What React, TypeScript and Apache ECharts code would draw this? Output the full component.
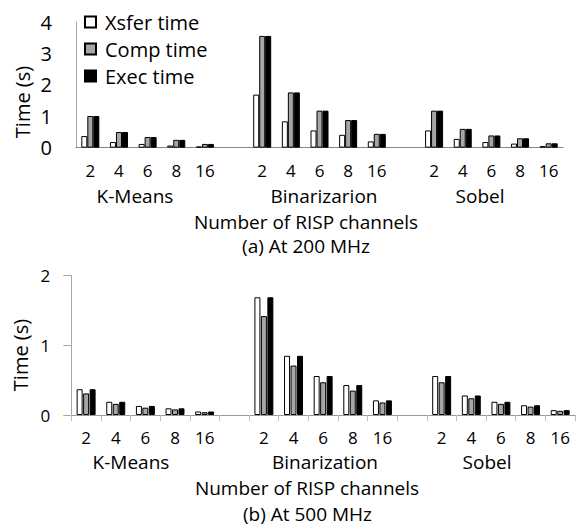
import React, { useEffect, useRef } from "react";
import * as echarts from "echarts";

const channels = ["2", "4", "6", "8", "16"];
const groupsTop = ["K-Means", "Binarizarion", "Sobel"];
const groupsBottom = ["K-Means", "Binarization", "Sobel"];
const seriesNames = ["Xsfer time", "Comp time", "Exec time"];

// (a) At 200 MHz  — one row per application, one value per channel count
const xsfer200 = [
  [0.37, 0.18, 0.12, 0.07, 0.04],
  [1.69, 0.84, 0.55, 0.41, 0.2],
  [0.55, 0.28, 0.18, 0.13, 0.05],
];
const comp200 = [
  [1.01, 0.5, 0.34, 0.25, 0.12],
  [3.56, 1.76, 1.18, 0.88, 0.44],
  [1.18, 0.6, 0.39, 0.3, 0.14],
];
const exec200 = [
  [1.01, 0.5, 0.34, 0.25, 0.12],
  [3.56, 1.76, 1.18, 0.88, 0.44],
  [1.18, 0.6, 0.39, 0.3, 0.14],
];

// (b) At 500 MHz
const xsfer500 = [
  [0.37, 0.19, 0.13, 0.096, 0.05],
  [1.69, 0.85, 0.56, 0.43, 0.21],
  [0.56, 0.28, 0.19, 0.14, 0.07],
];
const comp500 = [
  [0.31, 0.16, 0.105, 0.08, 0.04],
  [1.42, 0.71, 0.47, 0.35, 0.18],
  [0.47, 0.24, 0.16, 0.12, 0.06],
];
const exec500 = [
  [0.37, 0.19, 0.13, 0.096, 0.05],
  [1.69, 0.85, 0.56, 0.43, 0.21],
  [0.56, 0.28, 0.19, 0.14, 0.07],
];

const yTicksTop = [0, 4, 1];
const yTicksBottom = [0, 2, 1];

const FONT = "'Open Sans', sans-serif";

function flatten(rows: number[][]): (number | null)[] {
  const out: (number | null)[] = [];
  rows.forEach((r, i) => {
    if (i > 0) out.push(null);
    r.forEach((v) => out.push(v));
  });
  return out;
}

const categoryIds: string[] = [];
const tickLabels: string[] = [];
groupsTop.forEach((_, gi) => {
  if (gi > 0) {
    categoryIds.push("gap" + gi);
    tickLabels.push("");
  }
  channels.forEach((c, ci) => {
    categoryIds.push("g" + gi + "c" + ci);
    tickLabels.push(c);
  });
});

export default function App() {
  const ref = useRef<HTMLDivElement>(null);
  useEffect(() => {
    if (!ref.current) return;
    const chart = echarts.init(ref.current, undefined, { renderer: "svg" });

    const styles = [
      { color: "#ffffff", borderColor: "#000000", borderWidth: 1 },
      { color: "#a6a6a6", borderColor: "#000000", borderWidth: 1 },
      { color: "#000000", borderColor: "#000000", borderWidth: 1 },
    ];
    const topData = [xsfer200, comp200, exec200];
    const botData = [xsfer500, comp500, exec500];

    const series: any[] = [];
    seriesNames.forEach((n, i) => {
      series.push({
        name: n,
        type: "bar",
        xAxisIndex: 0,
        yAxisIndex: 0,
        data: flatten(topData[i]),
        barWidth: 6,
        barGap: "0%",
        itemStyle: styles[i],
      });
    });
    seriesNames.forEach((n, i) => {
      series.push({
        name: n,
        type: "bar",
        xAxisIndex: 1,
        yAxisIndex: 1,
        data: flatten(botData[i]),
        barWidth: 6,
        barGap: "8%",
        itemStyle: styles[i],
      });
    });

    const textStyle = (size: number) => ({
      fill: "#000",
      fontFamily: FONT,
      fontSize: size,
      lineHeight: size,
      align: "center",
      verticalAlign: "middle",
    });

    const groupText = (t: string, x: number, y: number) => ({
      type: "text",
      x,
      y,
      style: { text: t, ...textStyle(19) },
    });

    const xAxisCommon = (lineColor: string, showTick: boolean) => ({
      type: "category",
      data: categoryIds,
      boundaryGap: true,
      axisLine: { show: true, lineStyle: { color: lineColor, width: 1 } },
      axisTick: {
        show: showTick,
        interval: 0,
        length: 6,
        lineStyle: { color: "#bfbfbf" },
      },
      axisLabel: {
        interval: 0,
        margin: 14,
        fontSize: 17,
        lineHeight: 17,
        fontFamily: FONT,
        color: "#000",
        formatter: (_v: string, idx: number) => tickLabels[idx],
      },
      splitLine: { show: false },
    });

    chart.setOption({
      animation: false,
      textStyle: { fontFamily: FONT },
      legend: {
        data: seriesNames,
        orient: "vertical",
        left: 79,
        top: 7,
        itemWidth: 11,
        itemHeight: 11,
        itemGap: 7,
        icon: "rect",
        textStyle: { fontSize: 20, fontFamily: FONT, color: "#000", padding: [0, 0, 0, 4] },
      },
      grid: [
        { left: 76, top: 22.1, width: 487, height: 125.6, containLabel: false },
        { left: 71.3, top: 275.7, width: 503.7, height: 139.3, containLabel: false },
      ],
      xAxis: [
        { gridIndex: 0, ...xAxisCommon("#868686", false) },
        { gridIndex: 1, ...xAxisCommon("#9a9a9a", true) },
      ],
      yAxis: [
        {
          gridIndex: 0,
          type: "value",
          min: yTicksTop[0],
          max: yTicksTop[1],
          interval: yTicksTop[2],
          axisLine: { show: true, lineStyle: { color: "#a6a6a6" } },
          axisTick: { show: false },
          splitLine: { show: false },
          axisLabel: { margin: 24, fontSize: 20, fontFamily: FONT, color: "#000" },
        },
        {
          gridIndex: 1,
          type: "value",
          min: yTicksBottom[0],
          max: yTicksBottom[1],
          interval: yTicksBottom[2],
          axisLine: { show: true, lineStyle: { color: "#a6a6a6" } },
          axisTick: { show: true, inside: false, length: 8, lineStyle: { color: "#a6a6a6" } },
          splitLine: { show: false },
          axisLabel: { margin: 21, fontSize: 17, fontFamily: FONT, color: "#000" },
        },
      ],
      graphic: [
        {
          type: "text",
          x: 22,
          y: 102,
          rotation: Math.PI / 2,
          style: { text: "Time (s)", ...textStyle(20) },
        },
        {
          type: "text",
          x: 20,
          y: 355,
          rotation: Math.PI / 2,
          style: { text: "Time (s)", ...textStyle(20) },
        },
        groupText(groupsTop[0], 135, 196),
        groupText(groupsTop[1], 324, 196),
        groupText(groupsTop[2], 480, 196),
        groupText("Number of RISP channels", 306, 221.5),
        groupText("(a) At 200 MHz", 306, 246),
        groupText(groupsBottom[0], 131, 462),
        groupText(groupsBottom[1], 325, 462),
        groupText(groupsBottom[2], 487, 462),
        groupText("Number of RISP channels", 307, 488),
        groupText("(b) At 500 MHz", 307.5, 514),
      ],
      series,
    });
    return () => chart.dispose();
  }, []);
  return (
    <div
      ref={ref}
      style={{ position: "fixed", left: 0, top: 0, width: 576, height: 527, background: "#fff" }}
    />
  );
}
